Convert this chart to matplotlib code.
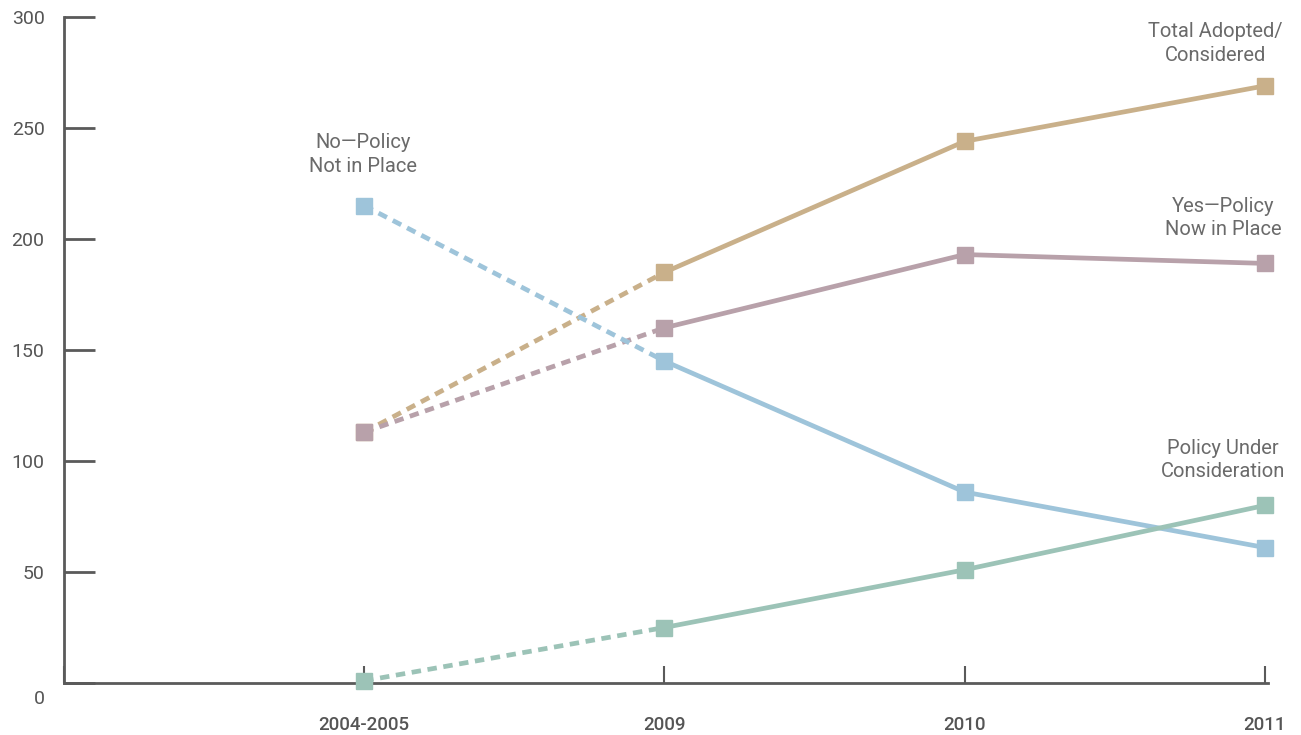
import numpy as np
import matplotlib.pyplot as plt
from matplotlib.transforms import ScaledTranslation

plt.rcParams['font.family'] = ['Roboto', 'DejaVu Sans']

years = ['2004-2005', '2009', '2010', '2011']
total_adopted = [113, 185, 244, 269]
yes_in_place = [113, 160, 193, 189]
no_policy = [215, 145, 86, 61]
under_consideration = [1, 25, 51, 80]

series = [
    (total_adopted, '#c9b08a', 'Total Adopted/\nConsidered', (3.835, 288)),
    (yes_in_place, '#b8a1aa', 'Yes\u2014Policy\nNow in Place', (3.86, 209.5)),
    (no_policy, '#9ec4da', 'No\u2014Policy\nNot in Place', (0.995, 238)),
    (under_consideration, '#9cc3b7', 'Policy Under\nConsideration', (3.86, 100.5)),
]

axis_color = '#5a5a5a'
text_color = '#6a6a6a'

fig = plt.figure(figsize=(13.01, 7.35), dpi=100)
ax = fig.add_axes([64 / 1301, (735 - 683) / 735, (1268 - 64) / 1301, 666 / 735])

x = np.arange(1, len(years) + 1)

for vals, color, label, (lx, ly) in series:
    # first interval is dashed, the rest solid
    ax.plot(x[:2], vals[:2], color=color, lw=3.4, ls=(0, (2.0, 1.4)),
            solid_capstyle='butt', dash_capstyle='butt', clip_on=False, zorder=2)
    ax.plot(x[1:], vals[1:], color=color, lw=3.4, clip_on=False, zorder=2)
    ax.plot(x, vals, ls='none', marker='s', ms=11, color=color, clip_on=False, zorder=3)
    ax.text(lx, ly, label, ha='center', va='center', fontsize=14.5,
            color=text_color, linespacing=1.3, clip_on=False)

ax.set_xlim(0, 4.01)
ax.set_ylim(0, 300)

ax.set_xticks(np.concatenate([[0], x]))
ax.set_xticklabels([''] + years, fontsize=13.5, fontweight='medium', color='#555555')
ax.set_yticks(range(0, 301, 50))
ax.set_yticklabels([str(v) for v in range(0, 301, 50)], fontsize=14, color='#555555')

ax.tick_params(axis='x', direction='in', length=12, width=1.5, color=axis_color, pad=24)
ax.tick_params(axis='y', direction='in', length=22, width=2, color=axis_color, pad=14)

# drop the zero label a little below the baseline
lbl0 = ax.get_yticklabels()[0]
lbl0.set_transform(lbl0.get_transform() + ScaledTranslation(0, -14 / 100, fig.dpi_scale_trans))

for side in ['top', 'right']:
    ax.spines[side].set_visible(False)
for side in ['left', 'bottom']:
    ax.spines[side].set_color(axis_color)
    ax.spines[side].set_linewidth(2)

fig.savefig('out.png', dpi=100)
